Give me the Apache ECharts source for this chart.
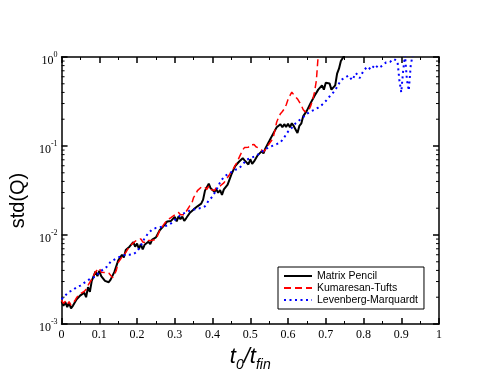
<!DOCTYPE html>
<html>
<head>
<meta charset="utf-8">
<script src="https://cdn.jsdelivr.net/npm/echarts@6/dist/echarts.min.js"></script>
<style>
  html, body { margin: 0; background: #fff; }
  #main { width: 494px; height: 382px; }
</style>
</head>
<body>
<div id="main"></div>
<script>
// std(Q) against t0/tfin, three fitting methods
const seriesNames = ["Matrix Pencil", "Kumaresan-Tufts", "Levenberg-Marquardt"];

// Matrix Pencil, sampled every 0.005 from t0/tfin = 0
const pencilStep = 0.005;
const pencilValues = [
  0.00180, 0.00160, 0.00176, 0.00155, 0.00172, 0.00150, 0.00160, 0.00165, 0.00190, 0.00182,
  0.00210, 0.00200, 0.00225, 0.00200, 0.00260, 0.00230, 0.00305, 0.00300, 0.00390, 0.00345,
  0.00395, 0.00345, 0.00350, 0.00305, 0.00320, 0.00295, 0.00315, 0.00320, 0.00385, 0.00400,
  0.00515, 0.00490, 0.00600, 0.00560, 0.00680, 0.00650, 0.00740, 0.00720, 0.00830, 0.00740,
  0.00800, 0.00700, 0.00790, 0.00690, 0.00775, 0.00750, 0.00840, 0.00790, 0.00890, 0.00850,
  0.00940, 0.00950, 0.01130, 0.01130, 0.01260, 0.01250, 0.01420, 0.01350, 0.01440, 0.01410,
  0.01600, 0.01420, 0.01620, 0.01510, 0.01610, 0.01440, 0.01540, 0.01560, 0.01780, 0.01720,
  0.01940, 0.01870, 0.02100, 0.02020, 0.02250, 0.02500, 0.03150, 0.03250, 0.03780, 0.03350,
  0.03500, 0.03060, 0.03250, 0.02980, 0.03200, 0.02820, 0.03250, 0.03150, 0.03680, 0.03550,
  0.04800, 0.04950, 0.05950, 0.05900, 0.06650, 0.06350, 0.07300, 0.06900, 0.07000, 0.06200,
  0.07100, 0.06300, 0.06700, 0.06700, 0.07900, 0.07550, 0.08700, 0.08250, 0.09400, 0.09400,
  0.11300, 0.11500, 0.13600, 0.13600, 0.16200, 0.15600, 0.17600, 0.16200, 0.17600, 0.16400,
  0.17800, 0.16200, 0.18000, 0.16800, 0.17300, 0.14000, 0.16800, 0.17800, 0.21500, 0.21500,
  0.25000, 0.25000, 0.30500, 0.29500, 0.36500, 0.37500, 0.43000, 0.42000, 0.48000, 0.43000,
  0.51500, 0.50000, 0.50500, 0.43000, 0.43000, 0.48000, 0.65000, 0.74000, 0.90000, 0.94000,
  1.05
];

// Kumaresan-Tufts, same sampling
const kumaStep = 0.005;
const kumaValues = [
  0.00185, 0.00170, 0.00180, 0.00166, 0.00178, 0.00163, 0.00172, 0.00182, 0.00198, 0.00202,
  0.00220, 0.00225, 0.00232, 0.00245, 0.00272, 0.00265, 0.00318, 0.00333, 0.00385, 0.00392,
  0.00425, 0.00382, 0.00380, 0.00380, 0.00380, 0.00375, 0.00360, 0.00332, 0.00360, 0.00400,
  0.00490, 0.00510, 0.00565, 0.00568, 0.00635, 0.00665, 0.00745, 0.00745, 0.00815, 0.00815,
  0.00885, 0.00865, 0.00905, 0.00835, 0.00875, 0.00815, 0.00865, 0.00825, 0.00875, 0.00835,
  0.00890, 0.01000, 0.01120, 0.01180, 0.01300, 0.01360, 0.01480, 0.01480, 0.01570, 0.01580,
  0.01680, 0.01670, 0.01790, 0.01690, 0.01710, 0.01690, 0.01830, 0.01870, 0.02140, 0.02260,
  0.02650, 0.02850, 0.03150, 0.03250, 0.03450, 0.03500, 0.03450, 0.03250, 0.03550, 0.03250,
  0.03200, 0.03150, 0.03400, 0.03250, 0.03550, 0.03550, 0.03850, 0.04050, 0.04450, 0.04750,
  0.05250, 0.05550, 0.06050, 0.06550, 0.07350, 0.08150, 0.09050, 0.09650, 0.10100, 0.09700,
  0.10300, 0.09900, 0.10400, 0.09800, 0.10100, 0.09400, 0.09100, 0.08600, 0.09100, 0.09400,
  0.10600, 0.11100, 0.12100, 0.14900, 0.18600, 0.20900, 0.23100, 0.24400, 0.26100, 0.28900,
  0.33200, 0.36800, 0.40300, 0.37800, 0.36200, 0.33800, 0.32200, 0.28800, 0.25700, 0.24300,
  0.25200, 0.25300, 0.28200, 0.32800, 0.40000, 0.54000, 1.05
];

// Levenberg-Marquardt, every 0.01 up to 0.88, then the two dips
const lmStep = 0.01;
const lmValues = [
  0.0019, 0.0021, 0.0023, 0.0024, 0.0026, 0.0027, 0.0029, 0.0031, 0.0033, 0.0034,
  0.0038, 0.0041, 0.0044, 0.0050, 0.0053, 0.0056, 0.0058, 0.0060, 0.0060, 0.0061,
  0.0065, 0.0076, 0.0092, 0.0105, 0.0115, 0.0120, 0.0122, 0.0125, 0.0128, 0.0135,
  0.0147, 0.0160, 0.0172, 0.0180, 0.0188, 0.0193, 0.0198, 0.0201, 0.0210, 0.0245,
  0.0270, 0.0320, 0.0390, 0.0450, 0.0480, 0.0510, 0.0540, 0.0560, 0.0620, 0.0700,
  0.0730, 0.0760, 0.0800, 0.0860, 0.0920, 0.0970, 0.1010, 0.1050, 0.1100, 0.1250,
  0.1450, 0.1600, 0.1800, 0.1950, 0.2100, 0.2300, 0.2450, 0.2550, 0.2700, 0.2900,
  0.3200, 0.3600, 0.4000, 0.4600, 0.5500, 0.5800, 0.6200, 0.5500, 0.6600, 0.5800,
  0.7000, 0.7800, 0.7200, 0.8200, 0.7500, 0.8000, 0.8700, 0.8800, 0.9500
];
const lmTailX = [0.885, 0.89, 0.895, 0.9, 0.905, 0.91, 0.915, 0.92, 0.925, 0.93];
const lmTailValues = [0.97, 0.90, 0.55, 0.40, 0.70, 1.05, 0.55, 0.42, 0.80, 1.05];

// log minor ticks (2..9 per decade)
const yMinorTicks = [
  0.002, 0.003, 0.004, 0.005, 0.006, 0.007, 0.008, 0.009,
  0.02, 0.03, 0.04, 0.05, 0.06, 0.07, 0.08, 0.09,
  0.2, 0.3, 0.4, 0.5, 0.6, 0.7, 0.8, 0.9
];

const pencilData = pencilValues.map((v, i) => [i * pencilStep, v]);
const kumaData = kumaValues.map((v, i) => [i * kumaStep, v]);
const lmData = lmValues.map((v, i) => [i * lmStep, v])
  .concat(lmTailX.map((x, i) => [x, lmTailValues[i]]));

const axisColor = "#000";
const serif = "Liberation Serif";
const sans = "Liberation Sans";

function xAxisCfg(position, showLabel) {
  return {
    type: "value",
    position: position,
    min: 0,
    max: 1,
    interval: 0.1,
    axisLine: { show: true, onZero: false, lineStyle: { color: axisColor, width: 1.5 } },
    axisTick: { show: true, inside: true, length: 6, lineStyle: { color: axisColor, width: 1.5 } },
    minorTick: { show: true, splitNumber: 2, length: 3, lineStyle: { color: axisColor, width: 1 } },
    splitLine: { show: false },
    axisLabel: {
      show: showLabel,
      color: "#000",
      fontFamily: serif,
      fontSize: 12,
      margin: 5,
    },
  };
}

function yAxisCfg(position, showLabel) {
  return {
    type: "log",
    logBase: 10,
    position: position,
    min: 0.001,
    max: 1,
    axisLine: { show: true, onZero: false, lineStyle: { color: axisColor, width: 1.5 } },
    axisTick: { show: true, inside: true, length: 6, lineStyle: { color: axisColor, width: 1.5 } },
    splitLine: { show: false },
    axisLabel: {
      show: showLabel,
      margin: 4,
      padding: [8, 0, 0, 0],
      formatter: (v) => `{b|10}{s|${Math.round(Math.log10(v))}}`,
      rich: {
        b: { fontFamily: serif, fontSize: 12, color: "#000", lineHeight: 20, verticalAlign: "middle" },
        s: { fontFamily: serif, fontSize: 8, color: "#000", lineHeight: 8, verticalAlign: "top" },
      },
    },
  };
}

const chart = echarts.init(document.getElementById("main"), null, { renderer: "canvas" });

const bottomX = xAxisCfg("bottom", true);
bottomX.name = "{t|t}{s|0}{t|/t}{s|fin}";
bottomX.nameLocation = "middle";
bottomX.nameGap = 7;
bottomX.nameTextStyle = {
  rich: {
    t: { fontFamily: sans, fontStyle: "italic", fontSize: 22, color: "#000", lineHeight: 30, verticalAlign: "middle" },
    s: { fontFamily: sans, fontStyle: "italic", fontSize: 14, color: "#000", lineHeight: 14, verticalAlign: "bottom" },
  },
};

const leftY = yAxisCfg("left", true);
leftY.name = "std(Q)";
leftY.nameLocation = "middle";
leftY.nameGap = 26;
leftY.nameTextStyle = { fontFamily: sans, fontSize: 20, color: "#000", padding: [0, 20, 0, 0] };

const option = {
  animation: false,
  backgroundColor: "#fff",
  grid: { left: 57, right: 55, top: 57, bottom: 58 },
  xAxis: [bottomX, xAxisCfg("top", false)],
  yAxis: [leftY, yAxisCfg("right", false)],
  legend: {
    data: seriesNames,
    orient: "vertical",
    left: 278,
    top: 267,
    itemWidth: 28,
    itemHeight: 12,
    itemGap: 0,
    padding: [3, 6, 3, 5],
    borderColor: "#000",
    borderWidth: 1,
    backgroundColor: "#fff",
    itemStyle: { opacity: 0 },
    textStyle: { fontFamily: sans, fontSize: 10.5, color: "#000", lineHeight: 12 },
  },
  series: [
    {
      name: seriesNames[0],
      type: "line",
      data: pencilData,
      symbol: "none",
      lineStyle: { color: "#000", width: 2 },
      itemStyle: { color: "#000" },
    },
    {
      name: seriesNames[1],
      type: "line",
      data: kumaData,
      symbol: "none",
      lineStyle: { color: "#ff0000", width: 1.5, type: [7, 4] },
      itemStyle: { color: "#ff0000" },
    },
    {
      name: seriesNames[2],
      type: "line",
      data: lmData,
      symbol: "none",
      lineStyle: { color: "#0000ff", width: 2, type: [2, 3.5] },
      itemStyle: { color: "#0000ff" },
    },
    {
      // minor ticks on the log axis, drawn on both sides of the frame
      type: "custom",
      silent: true,
      data: yMinorTicks.map((v) => [0, v]),
      renderItem: (params, api) => {
        const v = api.value(1);
        const l = api.coord([0, v]);
        const r = api.coord([1, v]);
        const st = { stroke: "#000", lineWidth: 1 };
        return {
          type: "group",
          children: [
            { type: "line", shape: { x1: l[0], y1: l[1], x2: l[0] + 3, y2: l[1] }, style: st },
            { type: "line", shape: { x1: r[0] - 3, y1: r[1], x2: r[0], y2: r[1] }, style: st },
          ],
        };
      },
    },
  ],
};

chart.setOption(option);
</script>
</body>
</html>
